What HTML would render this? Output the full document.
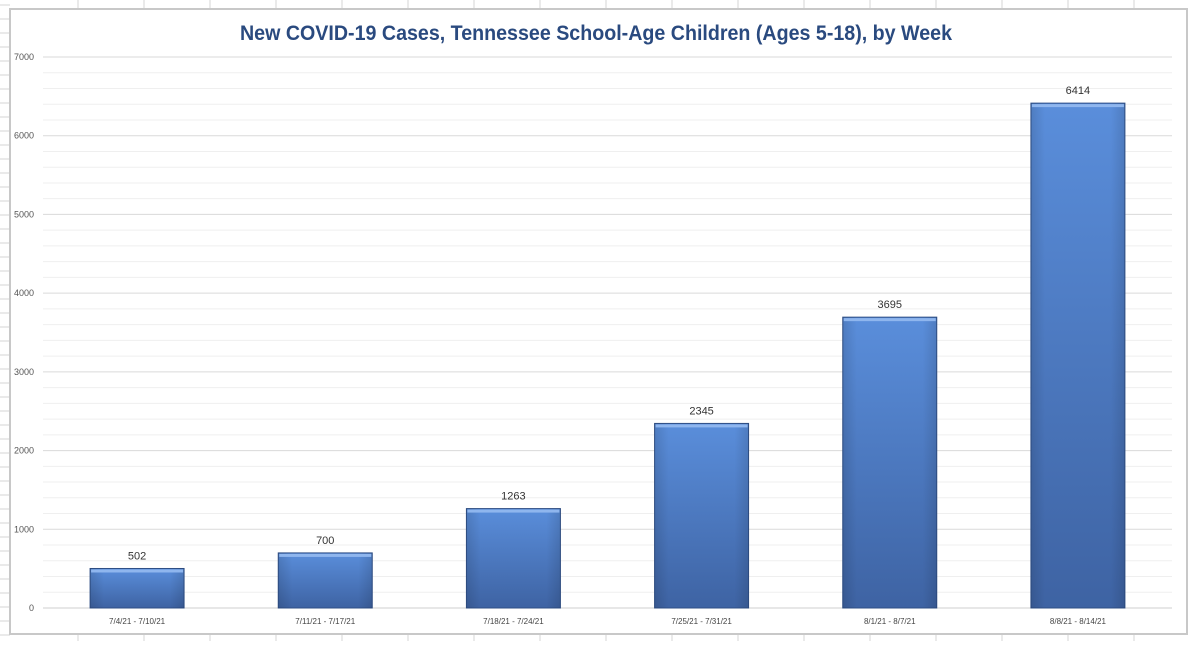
<!DOCTYPE html>
<html><head><meta charset="utf-8"><style>
body{margin:0;width:1200px;height:641px;background:#fff;overflow:hidden;font-family:"Liberation Sans",sans-serif}
</style></head><body>
<svg id="c" width="1200" height="641" xmlns="http://www.w3.org/2000/svg">
<defs>
<linearGradient id="g" x1="0" y1="0" x2="0" y2="1"><stop offset="0" stop-color="#5a8edb"/><stop offset="1" stop-color="#3e63a3"/></linearGradient>
<linearGradient id="h" x1="0" y1="0" x2="1" y2="0"><stop offset="0" stop-color="#000" stop-opacity="0.12"/><stop offset="0.15" stop-color="#000" stop-opacity="0"/><stop offset="0.85" stop-color="#000" stop-opacity="0"/><stop offset="1" stop-color="#000" stop-opacity="0.12"/></linearGradient>
</defs>
<g id="sheet"></g>
<rect x="10" y="9" width="1177" height="625" fill="#fff" stroke="#c8c8c8" stroke-width="2"/>
<text x="596" y="40" text-anchor="middle" font-size="21" font-weight="bold" fill="#2a4a7f" textLength="712" lengthAdjust="spacingAndGlyphs">New COVID-19 Cases, Tennessee School-Age Children (Ages 5-18), by Week</text>
<g id="grid"></g><g id="bars"></g>
</svg>
<script>
const categories=["7/4/21 - 7/10/21","7/11/21 - 7/17/21","7/18/21 - 7/24/21","7/25/21 - 7/31/21","8/1/21 - 8/7/21","8/8/21 - 8/14/21"];
const values=[502,700,1263,2345,3695,6414];
const ticks=[0,1000,2000,3000,4000,5000,6000,7000];
const NS="http://www.w3.org/2000/svg";
const x0=43,x1=1172,y0=608,yTop=57,max=7000;
const y=v=>y0-(v/max)*(y0-yTop);
const bw=(x1-x0)/categories.length;
function el(t,a,p){const e=document.createElementNS(NS,t);for(const k in a)e.setAttribute(k,a[k]);p.appendChild(e);return e;}
const sh=document.getElementById('sheet');
for(let yy=5;yy<641;yy+=14){const l=el('line',{x1:0,x2:10,y1:yy,y2:yy,stroke:'#d4d4d4'},sh);}
for(let xx=78;xx<1200;xx+=66){const l=el('line',{x1:xx,x2:xx,y1:0,y2:641,stroke:'#d4d4d4'},sh);}
const g=document.getElementById('grid');
for(let v=0;v<max;v+=200){if(v%1000===0)continue;const l=el('line',{x1:x0,x2:x1,y1:y(v),y2:y(v),stroke:'#efefef'},g);}
ticks.forEach(t=>{const l=el('line',{x1:x0,x2:x1,y1:y(t),y2:y(t),stroke:t===0?'#cfcfcf':'#dadada'},g);
const tx=el('text',{x:34,y:y(t)+3,'text-anchor':'end','font-size':9,fill:'#555'},g);tx.textContent=t;});
const b=document.getElementById('bars');
categories.forEach((c,i)=>{const cx=x0+bw*(i+0.5),w=94,top=y(values[i]);
const r=el('rect',{x:cx-w/2,y:top,width:w,height:y0-top,fill:'url(#g)',stroke:'#2f4f86','stroke-width':1},b);
const s=el('rect',{x:cx-w/2,y:top,width:w,height:y0-top,fill:'url(#h)'},b);
const hl=el('rect',{x:cx-w/2+1,y:top+1,width:w-2,height:3,fill:'#8fb6ee'},b);
const lb=el('text',{x:cx,y:top-9,'text-anchor':'middle','font-size':11,fill:'#333'},b);lb.textContent=values[i];
const cl=el('text',{x:cx,y:624,'text-anchor':'middle','font-size':8,fill:'#444'},b);cl.textContent=c;});
</script>
</body></html>
